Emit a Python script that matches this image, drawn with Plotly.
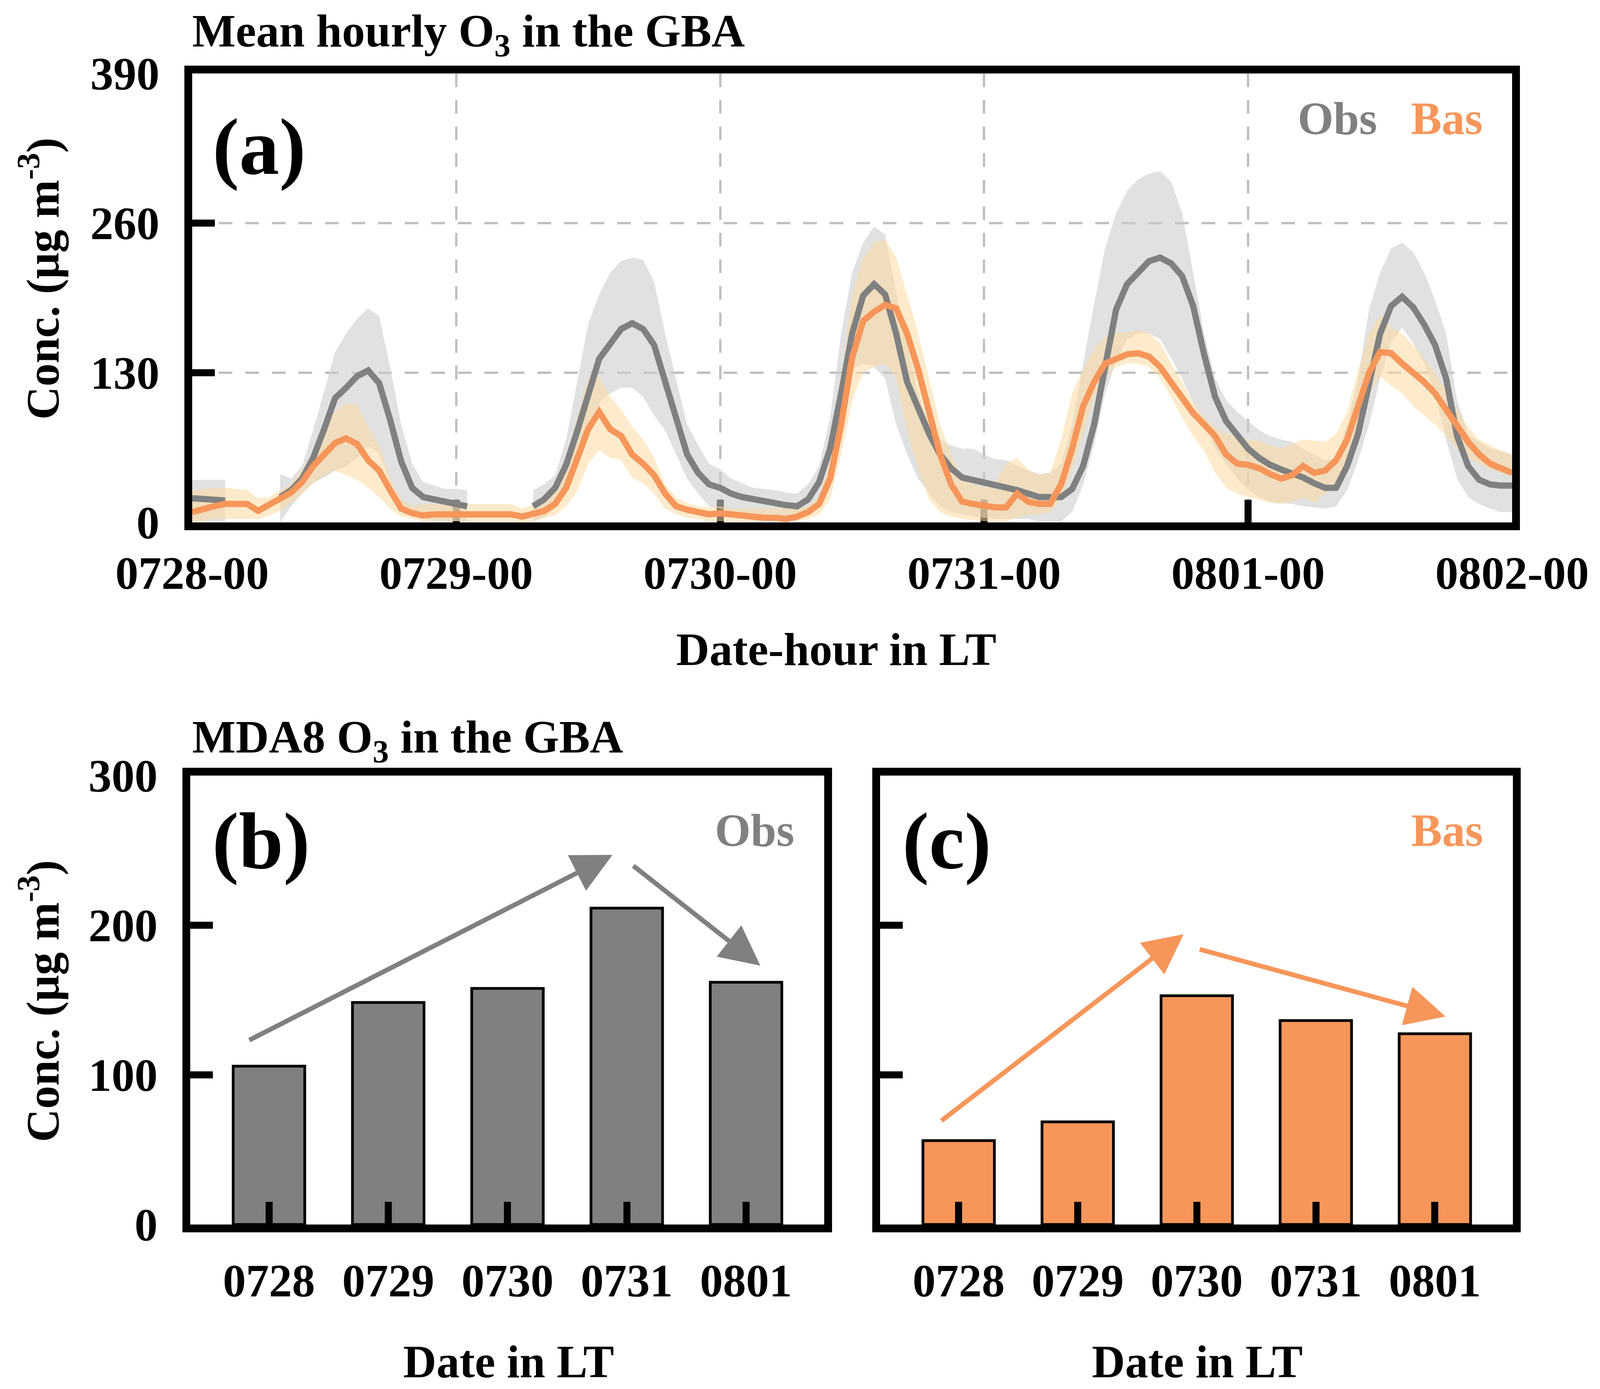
"""Mean hourly and MDA8 O3 in the GBA: observations vs. baseline simulation"""

import plotly.graph_objects as go

# ---- panel (a): hourly means, 0728-00 .. 0802-00 (one value per hour) ----
hour_tick_vals = [0, 24, 48, 72, 96, 120]
hour_tick_text = ["0728-00", "0729-00", "0730-00", "0731-00", "0801-00", "0802-00"]

obs_mean = [
    21, 20, 20, 19, None, None, None, None, 22, 28,
    38, 56, 81, 108, 117, 127, 132, 121, 89, 53,
    30, 22, 20, 18, 17, 14, None, None, None, None,
    None, 14, 20, 30, 50, 79, 112, 142, 155, 168,
    173, 168, 154, 122, 88, 59, 43, 33, 30, 25,
    22, 20, 19, 17, 15, 14, 20, 35, 64, 112,
    164, 197, 207, 198, 164, 122, 98, 77, 59, 47,
    39, 37, 35, 32, 30, 28, 25, 22, 22, 22,
    29, 49, 85, 138, 185, 207, 217, 227, 230, 225,
    214, 188, 146, 109, 88, 75, 64, 56, 50, 46,
    43, 39, 34, 30, 30, 49, 77, 119, 164, 188,
    196, 187, 172, 154, 125, 75, 49, 37, 33, 32,
    32,
]
obs_high = [
    37, 37, 37, 37, None, None, None, None, 42, 38,
    49, 80, 114, 148, 164, 177, 186, 179, 135, 85,
    51, 35, 32, 29, 29, 28, None, None, None, None,
    None, 28, 33, 41, 72, 122, 172, 198, 217, 227,
    230, 228, 209, 164, 125, 85, 67, 51, 46, 38,
    34, 30, 29, 28, 26, 25, 33, 49, 91, 164,
    217, 243, 257, 250, 200, 156, 112, 85, 72, 67,
    64, 64, 59, 55, 54, 49, 45, 42, 43, 51,
    85, 138, 190, 238, 269, 288, 298, 303, 305, 296,
    269, 217, 164, 125, 106, 96, 88, 80, 75, 72,
    70, 64, 59, 54, 56, 85, 125, 185, 217, 238,
    243, 235, 217, 193, 164, 106, 77, 70, 64, 62,
    59,
]
obs_low = [
    1, 1, 1, 1, None, None, None, None, 0, 14,
    25, 34, 39, 45, 49, 56, 66, 60, 35, 17,
    7, 3, 1, 1, 1, 1, None, None, None, None,
    None, 1, 4, 12, 28, 51, 75, 104, 112, 117,
    117, 109, 93, 80, 59, 38, 25, 14, 12, 9,
    8, 7, 6, 5, 4, 2, 7, 20, 41, 85,
    133, 138, 135, 125, 85, 59, 38, 25, 14, 9,
    7, 5, 4, 3, 3, 3, 3, 1, 1, 1,
    9, 33, 67, 112, 140, 159, 164, 164, 159, 143,
    125, 104, 85, 64, 51, 38, 28, 22, 18, 17,
    16, 14, 13, 12, 14, 28, 54, 85, 125, 156,
    169, 156, 138, 112, 72, 38, 22, 16, 12, 9,
    9,
]
bas_mean = [
    9, 12, 14, 16, 16, 16, 10, 15, 20, 26,
    35, 49, 59, 69, 73, 68, 54, 45, 28, 12,
    8, 6, 7, 7, 7, 7, 7, 8, 7, 7,
    5, 8, 10, 16, 30, 55, 81, 96, 81, 75,
    59, 51, 41, 25, 14, 11, 9, 7, 8, 7,
    5, 5, 4, 4, 3, 5, 9, 16, 38, 85,
    143, 175, 183, 189, 186, 164, 133, 96, 59, 33,
    18, 16, 14, 13, 13, 25, 18, 16, 16, 33,
    64, 101, 122, 138, 142, 146, 147, 144, 135, 122,
    109, 95, 85, 75, 59, 51, 50, 47, 42, 38,
    41, 49, 43, 45, 54, 72, 101, 130, 148, 147,
    138, 130, 122, 112, 98, 83, 70, 59, 51, 47,
    43,
]
bas_high = [
    28, 29, 30, 30, 29, 28, 21, 22, 28, 33,
    46, 62, 85, 96, 104, 102, 83, 67, 38, 20,
    14, 16, 16, 16, 16, 16, 16, 16, 16, 16,
    12, 15, 18, 28, 51, 91, 125, 127, 109, 98,
    83, 72, 56, 33, 22, 17, 14, 13, 14, 12,
    12, 12, 12, 12, 12, 12, 14, 22, 51, 125,
    196, 230, 243, 246, 230, 198, 164, 125, 85, 59,
    38, 33, 30, 35, 51, 56, 46, 41, 43, 72,
    112, 133, 151, 161, 165, 165, 167, 164, 156, 138,
    122, 104, 91, 83, 77, 75, 72, 71, 67, 64,
    68, 72, 71, 70, 77, 96, 132, 164, 180, 169,
    164, 154, 143, 130, 114, 98, 83, 72, 67, 62,
    59,
]
bas_low = [
    0, 1, 3, 3, 3, 3, 3, 6, 10, 17,
    25, 34, 41, 45, 41, 37, 30, 22, 12, 5,
    3, 1, 1, 1, 1, 1, 1, 1, 1, 1,
    0, 1, 4, 6, 14, 27, 51, 63, 56, 54,
    39, 34, 25, 12, 7, 4, 3, 1, 1, 1,
    1, 1, 1, 1, 1, 1, 3, 7, 20, 59,
    106, 130, 135, 138, 125, 80, 46, 20, 9, 5,
    3, 2, 1, 1, 1, 4, 7, 7, 9, 20,
    46, 77, 109, 127, 135, 138, 138, 135, 125, 109,
    91, 75, 62, 43, 30, 25, 22, 20, 17, 16,
    18, 22, 17, 25, 33, 54, 83, 112, 127, 119,
    112, 101, 93, 85, 75, 64, 56, 51, 46, 43,
    41,
]
hours = list(range(len(obs_mean)))

# ---- panels (b) and (c): daily MDA8 ----
days = ["0728", "0729", "0730", "0731", "0801"]
obs_mda8 = [105.8, 148.4, 157.8, 211.4, 161.9]
bas_mda8 = [56.1, 68.6, 152.9, 136.3, 127.5]

GRAY = "#808080"
ORANGE = "#f7965a"
FONT = "Liberation Serif"
# layout positions below are measured on a 4205 x 3555 canvas; the figure
# itself is sized to the browser window
W, H = 4205, 3555


def px_x(v):
    return v / W


def px_y(v):
    return 1 - v / H


def segments(x, lo, hi):
    """Split band data at gaps (None) into closed polygons"""
    out, cur = [], []
    for xi, a, b in zip(x, lo, hi):
        if a is None or b is None:
            if cur:
                out.append(cur)
            cur = []
        else:
            cur.append((xi, a, b))
    if cur:
        out.append(cur)
    polys = []
    for seg in out:
        xs = [s[0] for s in seg] + [s[0] for s in reversed(seg)]
        ys = [s[2] for s in seg] + [s[1] for s in reversed(seg)]
        polys.append((xs, ys))
    return polys


fig = go.Figure()

for xs, ys in segments(hours, obs_low, obs_high):
    fig.add_trace(go.Scatter(x=xs, y=ys, fill="toself", mode="lines", line=dict(width=0),
                             fillcolor="rgba(205,205,205,0.6)", hoverinfo="skip",
                             showlegend=False, xaxis="x", yaxis="y"))
for xs, ys in segments(hours, bas_low, bas_high):
    fig.add_trace(go.Scatter(x=xs, y=ys, fill="toself", mode="lines", line=dict(width=0),
                             fillcolor="rgba(252,218,160,0.55)", hoverinfo="skip",
                             showlegend=False, xaxis="x", yaxis="y"))

fig.add_trace(go.Scatter(x=hours, y=obs_mean, mode="lines", name="Obs",
                         line=dict(color=GRAY, width=16), connectgaps=False,
                         showlegend=False, xaxis="x", yaxis="y"))
fig.add_trace(go.Scatter(x=hours, y=bas_mean, mode="lines", name="Bas",
                         line=dict(color=ORANGE, width=16), showlegend=False,
                         xaxis="x", yaxis="y"))

fig.add_trace(go.Bar(x=list(range(len(days))), y=obs_mda8, width=0.6,
                     marker=dict(color=GRAY, line=dict(color="black", width=7)),
                     showlegend=False, xaxis="x2", yaxis="y2"))
fig.add_trace(go.Bar(x=list(range(len(days))), y=bas_mda8, width=0.6,
                     marker=dict(color=ORANGE, line=dict(color="black", width=7)),
                     showlegend=False, xaxis="x3", yaxis="y3"))

tick_font = dict(family=FONT, size=118, color="black", weight="bold")
common = dict(showline=True, linewidth=20, linecolor="black", mirror=True,
              ticks="inside", ticklen=58, tickwidth=18, tickcolor="black",
              tickfont=tick_font, zeroline=False, automargin=False)

fig.update_layout(
    autosize=True,
    margin=dict(l=0, r=0, t=0, b=0, autoexpand=False),
    paper_bgcolor="white", plot_bgcolor="white",
    xaxis=dict(domain=[px_x(505), px_x(3974)], range=[0, 120],
               tickvals=hour_tick_vals, ticktext=hour_tick_text,
               showgrid=True, gridcolor="#c0c0c0", gridwidth=6, griddash="35px,33px",
               ticklabelstandoff=8, layer="below traces", anchor="y", **common),
    yaxis=dict(domain=[px_y(1337), px_y(188)], range=[0, 390],
               tickvals=[0, 130, 260, 390],
               showgrid=True, gridcolor="#c0c0c0", gridwidth=6, griddash="35px,33px",
               ticklabelstandoff=40, layer="below traces", anchor="x", **common),
    xaxis2=dict(domain=[px_x(500), px_x(2166)], range=[-0.66, 4.655],
                tickvals=list(range(len(days))), ticktext=days, showgrid=False,
                ticklabelstandoff=22, anchor="y2", **common),
    yaxis2=dict(domain=[px_y(3134), px_y(1985)], range=[0, 300],
                tickvals=[0, 100, 200, 300], showgrid=False,
                ticklabelstandoff=40, anchor="x2", **common),
    xaxis3=dict(domain=[px_x(2313), px_x(3976)], range=[-0.66, 4.655],
                tickvals=list(range(len(days))), ticktext=days, showgrid=False,
                ticklabelstandoff=22, anchor="y3", **common),
    yaxis3=dict(domain=[px_y(3134), px_y(1985)], range=[0, 300],
                tickvals=[0, 100, 200, 300], showgrid=False, showticklabels=False,
                anchor="x3", **common),
)


def label(text, x, y, size=118, color="black", xanchor="center", angle=0):
    fig.add_annotation(text=text, x=x, y=y, xref="paper", yref="paper",
                       xanchor=xanchor, yanchor="middle", showarrow=False,
                       textangle=angle,
                       font=dict(family=FONT, size=size, color=color, weight="bold"))


label("Mean hourly O<sub>3</sub> in the GBA", px_x(503), px_y(88), xanchor="left")
label("MDA8 O<sub>3</sub> in the GBA", px_x(503), px_y(1895), xanchor="left")
label("(a)", px_x(681), px_y(375), size=205)
label("(b)", px_x(686), px_y(2152), size=205)
label("(c)", px_x(2488), px_y(2152), size=205)
label("Obs", px_x(3515), px_y(303), color=GRAY)
label("Bas", px_x(3803), px_y(303), color=ORANGE)
label("Obs", px_x(1983), px_y(2125), color=GRAY)
label("Bas", px_x(3804), px_y(2125), color=ORANGE)
label("Conc. (μg m<sup>-3</sup>)", px_x(104), px_y(713), angle=-90)
label("Conc. (μg m<sup>-3</sup>)", px_x(104), px_y(2562), angle=-90)
label("Date-hour in LT", px_x(2198), px_y(1662))
label("Date in LT", px_x(1337), px_y(3485))
label("Date in LT", px_x(3147), px_y(3485))

# trend arrows: (tail x, tail y, head x, head y) in category/value units
obs_arrows = [(-0.17, 123, 2.88, 247), (3.05, 240, 4.12, 173)]
bas_arrows = [(-0.15, 69, 1.89, 194), (2.02, 184, 4.09, 139)]
for arrows, xr, yr, color in [(obs_arrows, "x2", "y2", GRAY), (bas_arrows, "x3", "y3", ORANGE)]:
    for x0, y0, x1, y1 in arrows:
        fig.add_annotation(x=x1, y=y1, ax=x0, ay=y0, xref=xr, yref=yr, axref=xr, ayref=yr,
                           text="", showarrow=True, arrowhead=2, arrowsize=1.7,
                           arrowwidth=12, arrowcolor=color)

# fill the browser window exactly: no page margin, no scrollbars
fit_window = (
    "document.documentElement.style.margin='0';"
    "document.body.style.margin='0';"
    "document.body.style.overflow='hidden';"
    "var gd=document.getElementById('{plot_id}');"
    "gd.style.width='100vw';gd.style.height='100vh';"
    "Plotly.Plots.resize(gd);"
)

fig.write_html("out.html", default_width="100vw", default_height="100vh",
               config={"displayModeBar": False}, post_script=fit_window)
